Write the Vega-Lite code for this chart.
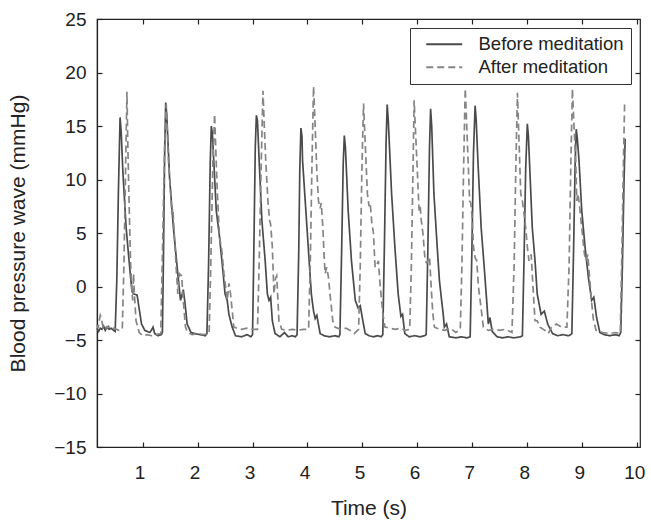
{
  "$schema": "https://vega.github.io/schema/vega-lite/v6.json",
  "width": 543,
  "height": 428,
  "autosize": "none",
  "padding": {"left": 97, "top": 19, "right": 11, "bottom": 74},
  "background": "white",
  "config": {
    "font": "Liberation Sans",
    "view": {"stroke": "#222", "strokeWidth": 1.2},
    "axis": {
      "domainColor": "#222", "domainWidth": 1.2,
      "tickColor": "#222", "tickWidth": 1.2, "tickSize": -5,
      "labelColor": "#222", "labelFont": "Liberation Sans", "labelFontSize": 19,
      "titleColor": "#222", "titleFont": "Liberation Sans", "titleFontSize": 21, "titleFontWeight": "normal",
      "grid": false
    },
    "legend": {
      "orient": "top-right", "offset": 9, "padding": 7,
      "strokeColor": "#333", "fillColor": "white",
      "labelFont": "Liberation Sans", "labelFontSize": 18.5, "labelColor": "#222",
      "symbolType": "M0,0H6", "symbolSize": 144, "symbolStrokeWidth": 1.8,
      "labelOffset": 43, "rowPadding": 4, "cornerRadius": 0
    }
  },
  "data": {"values": [
    {"s":"Before meditation","t":0.17,"v":-3.9},{"s":"Before meditation","t":0.20,"v":-4.2},{"s":"Before meditation","t":0.23,"v":-3.9},{"s":"Before meditation","t":0.26,"v":-4.0},{"s":"Before meditation","t":0.29,"v":-3.7},{"s":"Before meditation","t":0.32,"v":-4.1},{"s":"Before meditation","t":0.35,"v":-3.8},{"s":"Before meditation","t":0.39,"v":-4.0},{"s":"Before meditation","t":0.43,"v":-3.9},{"s":"Before meditation","t":0.47,"v":-4.1},{"s":"Before meditation","t":0.50,"v":-4.2},
    {"s":"Before meditation","t":0.53,"v":0.5},{"s":"Before meditation","t":0.56,"v":9.0},{"s":"Before meditation","t":0.59,"v":15.8},{"s":"Before meditation","t":0.61,"v":14.5},{"s":"Before meditation","t":0.64,"v":10.8},{"s":"Before meditation","t":0.70,"v":5.5},{"s":"Before meditation","t":0.78,"v":0.9},{"s":"Before meditation","t":0.81,"v":-0.5},{"s":"Before meditation","t":0.84,"v":-0.7},{"s":"Before meditation","t":0.90,"v":-0.8},{"s":"Before meditation","t":0.95,"v":-2.5},{"s":"Before meditation","t":0.98,"v":-3.5},{"s":"Before meditation","t":1.04,"v":-4.1},{"s":"Before meditation","t":1.13,"v":-4.3},{"s":"Before meditation","t":1.17,"v":-4.0},{"s":"Before meditation","t":1.19,"v":-3.8},{"s":"Before meditation","t":1.22,"v":-4.4},{"s":"Before meditation","t":1.28,"v":-4.6},{"s":"Before meditation","t":1.34,"v":-4.5},
    {"s":"Before meditation","t":1.36,"v":-4.3},{"s":"Before meditation","t":1.38,"v":3.0},{"s":"Before meditation","t":1.40,"v":12.0},{"s":"Before meditation","t":1.42,"v":17.2},{"s":"Before meditation","t":1.44,"v":16.0},{"s":"Before meditation","t":1.49,"v":10.2},{"s":"Before meditation","t":1.56,"v":5.5},{"s":"Before meditation","t":1.64,"v":1.2},{"s":"Before meditation","t":1.69,"v":-1.3},{"s":"Before meditation","t":1.74,"v":-0.3},{"s":"Before meditation","t":1.77,"v":-1.5},{"s":"Before meditation","t":1.81,"v":-3.5},{"s":"Before meditation","t":1.88,"v":-4.3},{"s":"Before meditation","t":1.95,"v":-4.4},{"s":"Before meditation","t":2.05,"v":-4.5},{"s":"Before meditation","t":2.14,"v":-4.6},
    {"s":"Before meditation","t":2.17,"v":-4.4},{"s":"Before meditation","t":2.20,"v":2.0},{"s":"Before meditation","t":2.23,"v":11.5},{"s":"Before meditation","t":2.25,"v":15.0},{"s":"Before meditation","t":2.27,"v":14.3},{"s":"Before meditation","t":2.34,"v":7.1},{"s":"Before meditation","t":2.40,"v":4.6},{"s":"Before meditation","t":2.46,"v":1.5},{"s":"Before meditation","t":2.50,"v":-0.7},{"s":"Before meditation","t":2.54,"v":-1.3},{"s":"Before meditation","t":2.57,"v":-2.6},{"s":"Before meditation","t":2.63,"v":-3.8},{"s":"Before meditation","t":2.69,"v":-4.6},{"s":"Before meditation","t":2.80,"v":-4.7},{"s":"Before meditation","t":2.90,"v":-4.5},{"s":"Before meditation","t":2.97,"v":-4.7},
    {"s":"Before meditation","t":3.00,"v":-4.5},{"s":"Before meditation","t":3.02,"v":2.0},{"s":"Before meditation","t":3.05,"v":13.0},{"s":"Before meditation","t":3.07,"v":16.0},{"s":"Before meditation","t":3.09,"v":15.5},{"s":"Before meditation","t":3.12,"v":11.8},{"s":"Before meditation","t":3.17,"v":6.2},{"s":"Before meditation","t":3.23,"v":2.4},{"s":"Before meditation","t":3.27,"v":-0.7},{"s":"Before meditation","t":3.30,"v":-1.3},{"s":"Before meditation","t":3.33,"v":-1.0},{"s":"Before meditation","t":3.36,"v":-3.2},{"s":"Before meditation","t":3.41,"v":-4.4},{"s":"Before meditation","t":3.50,"v":-4.7},{"s":"Before meditation","t":3.58,"v":-4.3},{"s":"Before meditation","t":3.65,"v":-4.7},{"s":"Before meditation","t":3.72,"v":-4.6},{"s":"Before meditation","t":3.78,"v":-4.7},
    {"s":"Before meditation","t":3.81,"v":-4.5},{"s":"Before meditation","t":3.84,"v":3.0},{"s":"Before meditation","t":3.86,"v":11.0},{"s":"Before meditation","t":3.88,"v":14.8},{"s":"Before meditation","t":3.90,"v":14.0},{"s":"Before meditation","t":3.91,"v":11.8},{"s":"Before meditation","t":3.97,"v":7.1},{"s":"Before meditation","t":4.03,"v":2.4},{"s":"Before meditation","t":4.07,"v":-0.7},{"s":"Before meditation","t":4.11,"v":-2.3},{"s":"Before meditation","t":4.14,"v":-3.0},{"s":"Before meditation","t":4.17,"v":-2.7},{"s":"Before meditation","t":4.23,"v":-4.4},{"s":"Before meditation","t":4.30,"v":-4.6},{"s":"Before meditation","t":4.40,"v":-4.7},{"s":"Before meditation","t":4.50,"v":-4.6},{"s":"Before meditation","t":4.57,"v":-4.7},
    {"s":"Before meditation","t":4.59,"v":-4.5},{"s":"Before meditation","t":4.62,"v":3.0},{"s":"Before meditation","t":4.65,"v":11.5},{"s":"Before meditation","t":4.67,"v":14.1},{"s":"Before meditation","t":4.69,"v":13.0},{"s":"Before meditation","t":4.74,"v":7.1},{"s":"Before meditation","t":4.80,"v":2.4},{"s":"Before meditation","t":4.87,"v":-1.3},{"s":"Before meditation","t":4.92,"v":-2.0},{"s":"Before meditation","t":4.96,"v":-1.8},{"s":"Before meditation","t":5.00,"v":-3.0},{"s":"Before meditation","t":5.05,"v":-4.4},{"s":"Before meditation","t":5.12,"v":-4.6},{"s":"Before meditation","t":5.20,"v":-4.7},{"s":"Before meditation","t":5.28,"v":-4.6},{"s":"Before meditation","t":5.34,"v":-4.7},
    {"s":"Before meditation","t":5.37,"v":-4.5},{"s":"Before meditation","t":5.40,"v":4.0},{"s":"Before meditation","t":5.43,"v":13.5},{"s":"Before meditation","t":5.45,"v":17.0},{"s":"Before meditation","t":5.47,"v":15.5},{"s":"Before meditation","t":5.53,"v":8.7},{"s":"Before meditation","t":5.59,"v":3.7},{"s":"Before meditation","t":5.65,"v":-0.7},{"s":"Before meditation","t":5.70,"v":-2.8},{"s":"Before meditation","t":5.73,"v":-2.6},{"s":"Before meditation","t":5.77,"v":-4.4},{"s":"Before meditation","t":5.85,"v":-4.7},{"s":"Before meditation","t":5.95,"v":-4.6},{"s":"Before meditation","t":6.05,"v":-4.7},{"s":"Before meditation","t":6.13,"v":-4.6},
    {"s":"Before meditation","t":6.16,"v":-4.5},{"s":"Before meditation","t":6.19,"v":3.5},{"s":"Before meditation","t":6.22,"v":13.0},{"s":"Before meditation","t":6.24,"v":16.6},{"s":"Before meditation","t":6.26,"v":15.0},{"s":"Before meditation","t":6.30,"v":8.7},{"s":"Before meditation","t":6.36,"v":3.7},{"s":"Before meditation","t":6.40,"v":0.6},{"s":"Before meditation","t":6.44,"v":-1.3},{"s":"Before meditation","t":6.47,"v":-2.6},{"s":"Before meditation","t":6.49,"v":-3.8},{"s":"Before meditation","t":6.53,"v":-3.5},{"s":"Before meditation","t":6.58,"v":-4.7},{"s":"Before meditation","t":6.70,"v":-4.8},{"s":"Before meditation","t":6.80,"v":-4.7},{"s":"Before meditation","t":6.90,"v":-4.8},
    {"s":"Before meditation","t":6.96,"v":-4.7},{"s":"Before meditation","t":6.99,"v":3.0},{"s":"Before meditation","t":7.02,"v":12.5},{"s":"Before meditation","t":7.05,"v":16.9},{"s":"Before meditation","t":7.07,"v":15.5},{"s":"Before meditation","t":7.10,"v":11.8},{"s":"Before meditation","t":7.16,"v":5.5},{"s":"Before meditation","t":7.22,"v":1.5},{"s":"Before meditation","t":7.26,"v":-1.3},{"s":"Before meditation","t":7.29,"v":-3.5},{"s":"Before meditation","t":7.32,"v":-2.9},{"s":"Before meditation","t":7.36,"v":-4.2},{"s":"Before meditation","t":7.45,"v":-4.7},{"s":"Before meditation","t":7.55,"v":-4.8},{"s":"Before meditation","t":7.65,"v":-4.7},{"s":"Before meditation","t":7.75,"v":-4.8},{"s":"Before meditation","t":7.88,"v":-4.7},
    {"s":"Before meditation","t":7.91,"v":-4.6},{"s":"Before meditation","t":7.94,"v":2.5},{"s":"Before meditation","t":7.97,"v":11.0},{"s":"Before meditation","t":8.00,"v":15.2},{"s":"Before meditation","t":8.02,"v":14.0},{"s":"Before meditation","t":8.09,"v":5.5},{"s":"Before meditation","t":8.14,"v":2.4},{"s":"Before meditation","t":8.18,"v":-0.7},{"s":"Before meditation","t":8.25,"v":-2.6},{"s":"Before meditation","t":8.31,"v":-2.3},{"s":"Before meditation","t":8.37,"v":-3.5},{"s":"Before meditation","t":8.46,"v":-4.4},{"s":"Before meditation","t":8.55,"v":-4.6},{"s":"Before meditation","t":8.65,"v":-4.5},{"s":"Before meditation","t":8.75,"v":-4.6},{"s":"Before meditation","t":8.79,"v":-4.5},
    {"s":"Before meditation","t":8.81,"v":-4.4},{"s":"Before meditation","t":8.84,"v":3.0},{"s":"Before meditation","t":8.87,"v":11.5},{"s":"Before meditation","t":8.89,"v":14.7},{"s":"Before meditation","t":8.91,"v":13.8},{"s":"Before meditation","t":8.94,"v":11.8},{"s":"Before meditation","t":8.99,"v":7.1},{"s":"Before meditation","t":9.05,"v":3.7},{"s":"Before meditation","t":9.11,"v":0.9},{"s":"Before meditation","t":9.17,"v":-1.3},{"s":"Before meditation","t":9.21,"v":-1.0},{"s":"Before meditation","t":9.26,"v":-2.9},{"s":"Before meditation","t":9.32,"v":-4.3},{"s":"Before meditation","t":9.40,"v":-4.5},{"s":"Before meditation","t":9.50,"v":-4.6},{"s":"Before meditation","t":9.60,"v":-4.5},{"s":"Before meditation","t":9.67,"v":-4.6},
    {"s":"Before meditation","t":9.70,"v":-4.3},{"s":"Before meditation","t":9.73,"v":2.0},{"s":"Before meditation","t":9.76,"v":10.0},{"s":"Before meditation","t":9.78,"v":13.8},

    {"s":"After meditation","t":0.17,"v":-3.6},{"s":"After meditation","t":0.19,"v":-3.9},{"s":"After meditation","t":0.21,"v":-3.2},{"s":"After meditation","t":0.23,"v":-2.7},{"s":"After meditation","t":0.25,"v":-3.0},{"s":"After meditation","t":0.28,"v":-3.8},{"s":"After meditation","t":0.31,"v":-3.6},{"s":"After meditation","t":0.34,"v":-3.9},{"s":"After meditation","t":0.38,"v":-3.7},{"s":"After meditation","t":0.42,"v":-4.0},{"s":"After meditation","t":0.47,"v":-3.9},{"s":"After meditation","t":0.52,"v":-4.0},{"s":"After meditation","t":0.57,"v":-4.1},{"s":"After meditation","t":0.63,"v":-4.0},
    {"s":"After meditation","t":0.66,"v":2.0},{"s":"After meditation","t":0.69,"v":11.0},{"s":"After meditation","t":0.715,"v":18.2},{"s":"After meditation","t":0.73,"v":13.4},{"s":"After meditation","t":0.75,"v":8.7},{"s":"After meditation","t":0.765,"v":5.5},{"s":"After meditation","t":0.78,"v":2.4},{"s":"After meditation","t":0.80,"v":-0.1},{"s":"After meditation","t":0.82,"v":-1.3},{"s":"After meditation","t":0.835,"v":1.2},{"s":"After meditation","t":0.85,"v":-0.7},{"s":"After meditation","t":0.88,"v":-3.2},{"s":"After meditation","t":0.94,"v":-4.3},{"s":"After meditation","t":1.00,"v":-4.6},{"s":"After meditation","t":1.08,"v":-4.5},{"s":"After meditation","t":1.16,"v":-4.6},{"s":"After meditation","t":1.24,"v":-4.5},{"s":"After meditation","t":1.33,"v":-4.4},
    {"s":"After meditation","t":1.36,"v":3.0},{"s":"After meditation","t":1.40,"v":13.0},{"s":"After meditation","t":1.43,"v":17.0},{"s":"After meditation","t":1.45,"v":14.5},{"s":"After meditation","t":1.47,"v":11.8},{"s":"After meditation","t":1.51,"v":8.7},{"s":"After meditation","t":1.53,"v":6.8},{"s":"After meditation","t":1.55,"v":7.3},{"s":"After meditation","t":1.57,"v":5.5},{"s":"After meditation","t":1.61,"v":1.8},{"s":"After meditation","t":1.64,"v":-0.7},{"s":"After meditation","t":1.67,"v":1.2},{"s":"After meditation","t":1.71,"v":1.0},{"s":"After meditation","t":1.74,"v":-1.3},{"s":"After meditation","t":1.78,"v":-3.8},{"s":"After meditation","t":1.82,"v":-4.3},{"s":"After meditation","t":1.90,"v":-4.5},{"s":"After meditation","t":2.00,"v":-4.4},{"s":"After meditation","t":2.10,"v":-4.5},{"s":"After meditation","t":2.21,"v":-4.4},
    {"s":"After meditation","t":2.24,"v":2.0},{"s":"After meditation","t":2.28,"v":12.0},{"s":"After meditation","t":2.31,"v":16.1},{"s":"After meditation","t":2.33,"v":13.0},{"s":"After meditation","t":2.36,"v":8.7},{"s":"After meditation","t":2.40,"v":4.6},{"s":"After meditation","t":2.44,"v":3.4},{"s":"After meditation","t":2.48,"v":1.2},{"s":"After meditation","t":2.54,"v":-1.3},{"s":"After meditation","t":2.57,"v":0.3},{"s":"After meditation","t":2.60,"v":-0.7},{"s":"After meditation","t":2.66,"v":-3.8},{"s":"After meditation","t":2.72,"v":-3.9},{"s":"After meditation","t":2.80,"v":-4.0},{"s":"After meditation","t":2.90,"v":-3.9},{"s":"After meditation","t":3.00,"v":-4.0},{"s":"After meditation","t":3.09,"v":-4.0},
    {"s":"After meditation","t":3.12,"v":2.0},{"s":"After meditation","t":3.16,"v":12.0},{"s":"After meditation","t":3.19,"v":18.3},{"s":"After meditation","t":3.21,"v":15.5},{"s":"After meditation","t":3.24,"v":11.8},{"s":"After meditation","t":3.28,"v":8.0},{"s":"After meditation","t":3.31,"v":6.2},{"s":"After meditation","t":3.33,"v":5.8},{"s":"After meditation","t":3.36,"v":3.7},{"s":"After meditation","t":3.39,"v":-0.7},{"s":"After meditation","t":3.42,"v":0.8},{"s":"After meditation","t":3.44,"v":1.0},{"s":"After meditation","t":3.48,"v":-3.2},{"s":"After meditation","t":3.53,"v":-4.0},{"s":"After meditation","t":3.62,"v":-4.1},{"s":"After meditation","t":3.72,"v":-4.0},{"s":"After meditation","t":3.82,"v":-4.1},{"s":"After meditation","t":3.92,"v":-4.0},{"s":"After meditation","t":4.02,"v":-4.0},
    {"s":"After meditation","t":4.05,"v":2.0},{"s":"After meditation","t":4.08,"v":11.0},{"s":"After meditation","t":4.11,"v":18.7},{"s":"After meditation","t":4.14,"v":14.9},{"s":"After meditation","t":4.17,"v":10.8},{"s":"After meditation","t":4.20,"v":8.0},{"s":"After meditation","t":4.23,"v":7.3},{"s":"After meditation","t":4.25,"v":7.8},{"s":"After meditation","t":4.28,"v":5.5},{"s":"After meditation","t":4.30,"v":3.1},{"s":"After meditation","t":4.32,"v":1.2},{"s":"After meditation","t":4.35,"v":1.8},{"s":"After meditation","t":4.38,"v":0.9},{"s":"After meditation","t":4.41,"v":-0.7},{"s":"After meditation","t":4.46,"v":-3.2},{"s":"After meditation","t":4.50,"v":-3.8},{"s":"After meditation","t":4.60,"v":-4.0},{"s":"After meditation","t":4.70,"v":-3.9},{"s":"After meditation","t":4.78,"v":-4.1},{"s":"After meditation","t":4.85,"v":-4.4},{"s":"After meditation","t":4.93,"v":-4.0},
    {"s":"After meditation","t":4.96,"v":2.0},{"s":"After meditation","t":4.99,"v":11.0},{"s":"After meditation","t":5.02,"v":17.1},{"s":"After meditation","t":5.05,"v":13.4},{"s":"After meditation","t":5.09,"v":8.7},{"s":"After meditation","t":5.12,"v":7.5},{"s":"After meditation","t":5.14,"v":7.8},{"s":"After meditation","t":5.17,"v":6.0},{"s":"After meditation","t":5.20,"v":5.0},{"s":"After meditation","t":5.23,"v":1.8},{"s":"After meditation","t":5.26,"v":2.0},{"s":"After meditation","t":5.29,"v":2.4},{"s":"After meditation","t":5.32,"v":0.2},{"s":"After meditation","t":5.37,"v":-2.5},{"s":"After meditation","t":5.41,"v":-3.8},{"s":"After meditation","t":5.50,"v":-3.9},{"s":"After meditation","t":5.60,"v":-4.0},{"s":"After meditation","t":5.70,"v":-3.9},{"s":"After meditation","t":5.78,"v":-4.1},{"s":"After meditation","t":5.86,"v":-4.0},
    {"s":"After meditation","t":5.89,"v":2.0},{"s":"After meditation","t":5.92,"v":11.0},{"s":"After meditation","t":5.94,"v":17.4},{"s":"After meditation","t":5.97,"v":14.0},{"s":"After meditation","t":5.99,"v":11.8},{"s":"After meditation","t":6.03,"v":7.1},{"s":"After meditation","t":6.05,"v":7.5},{"s":"After meditation","t":6.07,"v":6.2},{"s":"After meditation","t":6.10,"v":5.0},{"s":"After meditation","t":6.14,"v":2.4},{"s":"After meditation","t":6.17,"v":2.2},{"s":"After meditation","t":6.19,"v":2.4},{"s":"After meditation","t":6.22,"v":2.8},{"s":"After meditation","t":6.25,"v":0.0},{"s":"After meditation","t":6.28,"v":-2.5},{"s":"After meditation","t":6.31,"v":-3.8},{"s":"After meditation","t":6.40,"v":-4.0},{"s":"After meditation","t":6.50,"v":-4.1},{"s":"After meditation","t":6.60,"v":-3.9},{"s":"After meditation","t":6.70,"v":-4.3},{"s":"After meditation","t":6.78,"v":-4.0},
    {"s":"After meditation","t":6.81,"v":2.0},{"s":"After meditation","t":6.84,"v":11.0},{"s":"After meditation","t":6.87,"v":18.5},{"s":"After meditation","t":6.89,"v":16.0},{"s":"After meditation","t":6.91,"v":13.4},{"s":"After meditation","t":6.95,"v":8.0},{"s":"After meditation","t":6.97,"v":7.8},{"s":"After meditation","t":7.00,"v":6.2},{"s":"After meditation","t":7.02,"v":3.7},{"s":"After meditation","t":7.05,"v":2.7},{"s":"After meditation","t":7.08,"v":2.4},{"s":"After meditation","t":7.11,"v":0.0},{"s":"After meditation","t":7.17,"v":-2.5},{"s":"After meditation","t":7.20,"v":-3.8},{"s":"After meditation","t":7.29,"v":-4.1},{"s":"After meditation","t":7.40,"v":-4.0},{"s":"After meditation","t":7.50,"v":-4.1},{"s":"After meditation","t":7.60,"v":-4.0},{"s":"After meditation","t":7.72,"v":-4.3},
    {"s":"After meditation","t":7.76,"v":2.0},{"s":"After meditation","t":7.79,"v":11.0},{"s":"After meditation","t":7.82,"v":18.1},{"s":"After meditation","t":7.85,"v":13.4},{"s":"After meditation","t":7.88,"v":8.7},{"s":"After meditation","t":7.91,"v":8.0},{"s":"After meditation","t":7.94,"v":6.8},{"s":"After meditation","t":7.97,"v":5.5},{"s":"After meditation","t":8.00,"v":3.7},{"s":"After meditation","t":8.03,"v":2.4},{"s":"After meditation","t":8.07,"v":3.0},{"s":"After meditation","t":8.11,"v":-0.7},{"s":"After meditation","t":8.14,"v":-3.2},{"s":"After meditation","t":8.18,"v":-3.2},{"s":"After meditation","t":8.23,"v":-3.8},{"s":"After meditation","t":8.32,"v":-4.1},{"s":"After meditation","t":8.38,"v":-4.4},{"s":"After meditation","t":8.44,"v":-3.8},{"s":"After meditation","t":8.53,"v":-3.5},{"s":"After meditation","t":8.62,"v":-3.8},{"s":"After meditation","t":8.72,"v":-3.8},
    {"s":"After meditation","t":8.76,"v":2.0},{"s":"After meditation","t":8.79,"v":11.0},{"s":"After meditation","t":8.82,"v":18.5},{"s":"After meditation","t":8.85,"v":14.9},{"s":"After meditation","t":8.88,"v":11.8},{"s":"After meditation","t":8.90,"v":8.0},{"s":"After meditation","t":8.92,"v":8.7},{"s":"After meditation","t":8.95,"v":7.5},{"s":"After meditation","t":9.00,"v":5.0},{"s":"After meditation","t":9.04,"v":3.0},{"s":"After meditation","t":9.07,"v":2.4},{"s":"After meditation","t":9.10,"v":3.0},{"s":"After meditation","t":9.13,"v":1.0},{"s":"After meditation","t":9.17,"v":-1.5},{"s":"After meditation","t":9.20,"v":-3.0},{"s":"After meditation","t":9.25,"v":-4.1},{"s":"After meditation","t":9.37,"v":-4.3},{"s":"After meditation","t":9.50,"v":-4.4},{"s":"After meditation","t":9.60,"v":-4.3},{"s":"After meditation","t":9.69,"v":-4.4},
    {"s":"After meditation","t":9.72,"v":3.0},{"s":"After meditation","t":9.75,"v":12.0},{"s":"After meditation","t":9.77,"v":17.1}
  ]},
  "layer": [
    {
      "mark": {"type": "line", "strokeWidth": 1.7, "interpolate": "linear"},
      "encoding": {
        "x": {"field": "t", "type": "quantitative", "scale": {"domain": [0.17, 10.05], "nice": false, "zero": false},
              "axis": {"orient": "bottom", "values": [1,2,3,4,5,6,7,8,9,10], "title": "Time (s)", "labelPadding": 21, "labelOffset": -3, "titlePadding": 15}},
        "y": {"field": "v", "type": "quantitative", "scale": {"domain": [-15, 25], "nice": false, "zero": false},
              "axis": {"orient": "left", "values": [-15,-10,-5,0,5,10,15,20,25], "title": "Blood pressure wave (mmHg)", "labelPadding": 16, "titlePadding": 25}},
        "color": {"field": "s", "type": "nominal", "scale": {"domain": ["Before meditation", "After meditation"], "range": ["#4a4a4a", "#858585"]}, "legend": {"title": null}},
        "strokeDash": {"field": "s", "type": "nominal", "scale": {"domain": ["Before meditation", "After meditation"], "range": [[1, 0], [7, 4]]}, "legend": {"title": null}}
      }
    },
    {
      "mark": {"type": "point", "opacity": 0},
      "encoding": {
        "x": {"field": "t", "type": "quantitative", "axis": {"orient": "top", "values": [1,2,3,4,5,6,7,8,9,10], "labels": false, "title": null, "domain": false}},
        "y": {"field": "v", "type": "quantitative", "axis": {"orient": "right", "values": [-10,-5,0,5,10,15,20], "labels": false, "title": null, "domain": false}}
      }
    }
  ],
  "resolve": {"axis": {"x": "independent", "y": "independent"}}
}
